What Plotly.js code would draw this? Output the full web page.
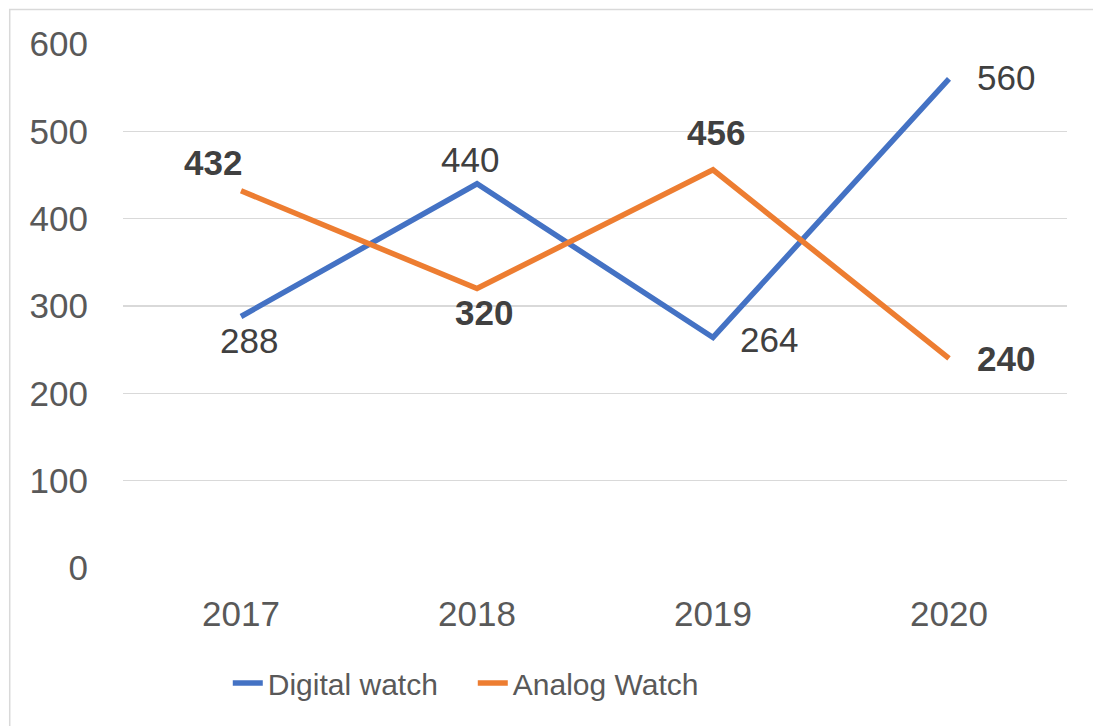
<!DOCTYPE html>
<html><head><meta charset="utf-8">
<script src="https://cdn.plot.ly/plotly-3.0.1.min.js"></script>
<style>html,body{margin:0;padding:0;background:#fff;}#chart{width:1093px;height:726px;}</style>
</head><body><div id="chart"></div>
<script>
const years = ['2017', '2018', '2019', '2020'];
const digital = [288, 440, 264, 560];
const analog = [432, 320, 456, 240];
const yTicks = [0, 100, 200, 300, 400, 500, 600];

const digitalShift = [[8, -24], [-7, 24], [56, -2], [57, 1]];
const analogShift = [[-28, 28], [7, -24], [3, 37], [57, 0]];

const FONT = 'Liberation Sans, Arial, sans-serif';
const annotations = [];
years.forEach((y, i) => {
  annotations.push({xref: 'x', yref: 'y', x: i, y: digital[i], text: String(digital[i]), showarrow: false,
    xshift: digitalShift[i][0], yshift: digitalShift[i][1],
    font: {family: FONT, size: 35, color: '#404040'}});
  annotations.push({xref: 'x', yref: 'y', x: i, y: analog[i], text: '<b>' + analog[i] + '</b>', showarrow: false,
    xshift: analogShift[i][0], yshift: analogShift[i][1],
    font: {family: FONT, size: 35, color: '#404040'}});
});

const traces = [
  {x: years, y: digital, name: 'Digital watch', type: 'scatter', mode: 'lines',
   line: {color: '#4472C4', width: 5.5}},
  {x: years, y: analog, name: 'Analog Watch', type: 'scatter', mode: 'lines',
   line: {color: '#ED7D31', width: 5.5}}
];

const layout = {
  width: 1093, height: 726,
  margin: {l: 123, r: 26, t: 44, b: 158},
  paper_bgcolor: '#fff', plot_bgcolor: '#fff',
  font: {family: FONT, color: '#595959'},
  showlegend: true,
  legend: {orientation: 'h', x: 0.111, xanchor: 'left', y: -0.17, yanchor: 'top',
    font: {family: FONT, size: 30, color: '#595959'}, itemwidth: 30, traceorder: 'normal',
    entrywidth: 200, entrywidthmode: 'pixels'},
  xaxis: {type: 'category', range: [-0.5, 3.5], showgrid: false, zeroline: false,
    showline: false, ticks: '', ticklabelstandoff: 22,
    tickfont: {family: FONT, size: 35, color: '#595959'}},
  yaxis: {range: [0, 600], tickvals: yTicks, ticktext: yTicks.map(String),
    showgrid: true, gridcolor: '#D9D9D9', gridwidth: 1.5, zeroline: false, showline: false,
    ticks: '', ticklabelstandoff: 34,
    tickfont: {family: FONT, size: 35, color: '#595959'}},
  annotations: annotations,
  shapes: [
    {type: 'rect', xref: 'paper', yref: 'paper', x0: -0.1200, x1: 1.2, y0: -0.5, y1: 1.066,
     line: {color: '#D9D9D9', width: 1.5}, fillcolor: 'rgba(0,0,0,0)', layer: 'below'}
  ]
};

Plotly.newPlot('chart', traces, layout, {displayModeBar: false, staticPlot: true});
</script></body></html>
